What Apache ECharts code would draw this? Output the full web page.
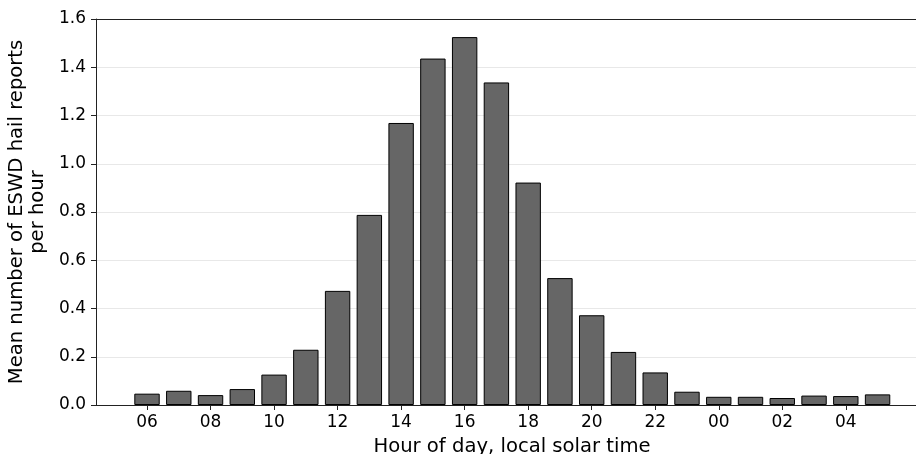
<!DOCTYPE html>
<html>
<head>
<meta charset="utf-8">
<script src="https://cdn.jsdelivr.net/npm/echarts@6/dist/echarts.min.js"></script>
<style>html,body{margin:0;padding:0;background:#fff}#c{width:916px;height:454px}</style>
</head>
<body>
<div id="c"></div>
<script>
const hourLabels = ['06','07','08','09','10','11','12','13','14','15','16','17','18','19','20','21','22','23','00','01','02','03','04','05'];
const meanReports = [0.047,0.059,0.041,0.066,0.126,0.229,0.473,0.788,1.169,1.436,1.525,1.337,0.922,0.526,0.372,0.220,0.135,0.055,0.034,0.034,0.029,0.039,0.037,0.044];
const tickPositions = [0,2,4,6,8,10,12,14,16,18,20,22];
const yTicks = [0,0.2,0.4,0.6,0.8,1.0,1.2,1.4,1.6];

const FONT = 'DejaVu Sans';
const chart = echarts.init(document.getElementById('c'), null, {renderer:'canvas'});
const xMin = -1.606, xMax = 24.21;
chart.setOption({
  animation: false,
  backgroundColor: '#fff',
  grid: {left: 96, top: 19, right: 0, bottom: 49, containLabel: false, outerBoundsMode: 'none'},
  xAxis: [{
    type: 'value', min: xMin, max: xMax, position: 'bottom',
    axisLine: {show: true, onZero: false, lineStyle: {color: '#222', width: 1}},
    axisTick: {show: true, inside: false, length: 5, customValues: tickPositions, lineStyle: {color: '#222', width: 1}},
    axisLabel: {show: true, customValues: tickPositions, margin: 9, fontFamily: FONT, fontSize: 17, color: '#000',
      formatter: v => hourLabels[Math.round(v)]},
    splitLine: {show: false},
    name: 'Hour of day, local solar time', nameLocation: 'middle', nameGap: 32,
    nameTextStyle: {fontFamily: FONT, fontSize: 19.6, color: '#000', padding: [0,0,0,12]}
  },{
    type: 'value', min: xMin, max: xMax, position: 'top',
    axisLine: {show: true, onZero: false, lineStyle: {color: '#222', width: 1}},
    axisTick: {show: false}, axisLabel: {show: false}, splitLine: {show: false}
  }],
  yAxis: {
    type: 'value', min: 0, max: 1.6, interval: 0.2,
    axisLine: {show: true, onZero: false, lineStyle: {color: '#222', width: 1}},
    axisTick: {show: true, inside: false, length: 5, lineStyle: {color: '#222', width: 1}},
    axisLabel: {margin: 10, fontFamily: FONT, fontSize: 17, color: '#000', formatter: v => v.toFixed(1)},
    splitLine: {show: true, lineStyle: {color: '#e8e8e8', width: 1}},
    name: 'Mean number of ESWD hail reports\nper hour', nameLocation: 'middle', nameRotate: 90, nameGap: 37,
    nameTextStyle: {fontFamily: FONT, fontSize: 19.6, color: '#000', lineHeight: 21, align: 'center'}
  },
  series: [{
    type: 'bar', xAxisIndex: 0,
    data: meanReports.map((v, i) => [i, v]),
    barWidth: 25.4,
    itemStyle: {color: '#666666', borderColor: '#000', borderWidth: 1}
  }]
});
</script>
</body>
</html>
